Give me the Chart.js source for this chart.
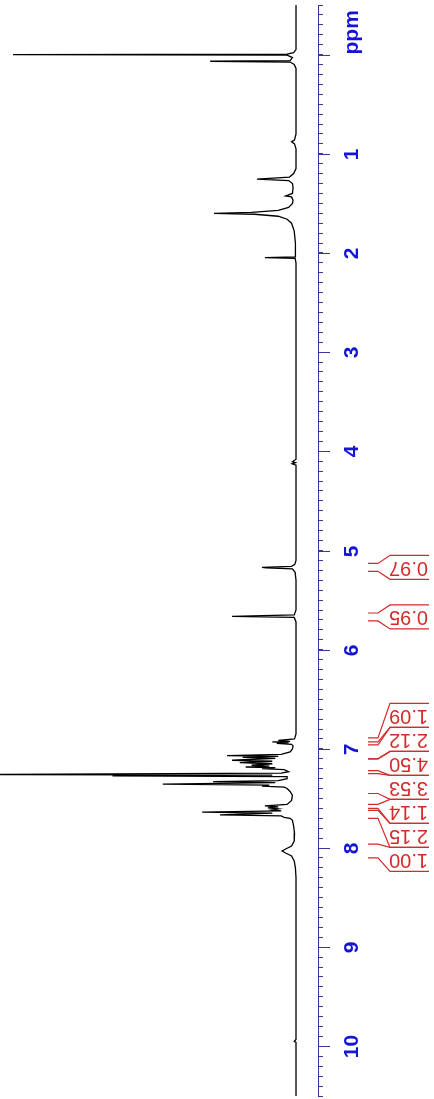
<!DOCTYPE html>
<html>
<head>
<meta charset="utf-8">
<script src="https://cdn.jsdelivr.net/npm/chart.js@4"></script>
<style>
  html, body { margin: 0; padding: 0; background: #fff; }
  #wrap { width: 434px; height: 1099px; position: relative; }
</style>
</head>
<body>
<div id="wrap"><canvas id="nmrChart"></canvas></div>
<script>
// Spectrum trace: chemical shift (ppm) and relative intensity
const shifts = [
  -0.5, -0.05, -0.02, -0.005, 0.0, 0.006, 0.03, 0.06, 0.067, 0.075, 0.10, 0.14,
  0.80, 0.86, 0.88, 0.90, 0.95,
  1.15, 1.20, 1.235, 1.255, 1.27, 1.30, 1.34, 1.40, 1.425, 1.435, 1.47, 1.50,
  1.54, 1.57, 1.59, 1.60, 1.61, 1.63, 1.66, 1.70, 1.78, 1.90,
  2.00, 2.04, 2.047, 2.055, 2.10,
  4.08, 4.105, 4.115, 4.125, 4.14,
  5.10, 5.14, 5.16, 5.17, 5.175, 5.185, 5.22, 5.30,
  5.60, 5.65, 5.665, 5.675, 5.72,
  6.85, 6.90, 6.915, 6.925, 6.93, 6.938, 6.945, 6.955, 6.97, 7.00, 7.03,
  7.055, 7.068, 7.075, 7.085, 7.095, 7.115, 7.125, 7.138, 7.15, 7.165, 7.175,
  7.183, 7.19, 7.20, 7.21, 7.23, 7.245, 7.26, 7.265, 7.272, 7.28, 7.30, 7.32,
  7.33, 7.34, 7.355, 7.365, 7.375, 7.385, 7.40, 7.43, 7.47, 7.52, 7.56,
  7.575, 7.585, 7.595, 7.605, 7.615, 7.625, 7.638, 7.648, 7.665, 7.675, 7.69,
  7.70, 7.72, 7.78, 7.85, 7.93, 7.98, 8.01, 8.03, 8.05, 8.08, 8.13, 8.20, 8.30,
  9.93, 9.95, 9.96, 10.6
];
const intensities = [
  0, 0, 0.8, 3, 95.6, 3, 1.2, 2, 29, 2, 0.6, 0,
  0, 0.5, 1.5, 0.5, 0,
  0, 0.8, 2.2, 13.2, 2.5, 1.2, 1.0, 1.2, 3.5, 1.5, 1.0, 1.2,
  2.5, 6, 15, 27.7, 14, 6, 3, 1.5, 0.6, 0.2,
  0.1, 0.3, 10.5, 0.3, 0,
  0, 1.2, 0.2, 1.3, 0,
  0, 0.4, 1.5, 11.5, 10, 1.2, 0.3, 0,
  0, 0.6, 21.6, 0.6, 0,
  0, 0.5, 6, 2, 8, 2.5, 6.5, 1.5, 1.0, 1.2, 2.0,
  5, 23.3, 6, 18, 7, 21.6, 8, 19, 8, 15, 9,
  17, 7, 11.5, 4, 2.5, 5, 115, 8, 62, 3, 3, 6,
  28, 7, 45, 9, 11.5, 4, 3, 2, 1.2, 1.5, 3,
  10.5, 6, 9.5, 6, 8, 5, 31.7, 8, 25.7, 5, 4,
  2, 1.2, 0.8, 0.5, 0.6, 1.5, 3.5, 4.7, 3.5, 1.5, 0.6, 0.2, 0,
  0, 0.6, 0, 0
];

// Integral regions (ppm) and their values
const integralFrom = [5.13, 5.63, 6.89, 6.96, 7.10, 7.25, 7.56, 7.62, 7.96];
const integralTo = [5.21, 5.71, 6.93, 7.10, 7.22, 7.45, 7.60, 7.70, 8.10];
const integralValues = ['0.97', '0.95', '1.09', '2.12', '4.50', '3.53', '1.14', '2.15', '1.00'];

// Axis
const axisTitle = 'ppm';
const ppmMin = -0.5;
const ppmMax = 10.5;

const AXIS_BLUE = '#38389a';
const LABEL_BLUE = '#1414d6';
const INT_RED = '#d42a2a';

// Places the stacked integral labels so they don't overlap
function layoutLabels(centers, h) {
  let clusters = centers
    .map((c, i) => ({ members: [i], sum: c }))
    .sort((a, b) => a.sum - b.sum);
  let merged = true;
  while (merged) {
    merged = false;
    for (let k = 0; k < clusters.length - 1; k++) {
      const a = clusters[k], b = clusters[k + 1];
      const am = a.sum / a.members.length, bm = b.sum / b.members.length;
      if (am + a.members.length * h / 2 > bm - b.members.length * h / 2) {
        clusters.splice(k, 2, { members: a.members.concat(b.members), sum: a.sum + b.sum });
        merged = true;
        break;
      }
    }
  }
  const tops = [];
  clusters.forEach(cl => {
    const n = cl.members.length;
    const mean = cl.sum / n;
    cl.members.forEach((idx, j) => { tops[idx] = mean - n * h / 2 + j * h; });
  });
  return tops;
}

const ppmAxisPlugin = {
  id: 'ppmAxis',
  afterDraw(chart) {
    const ctx = chart.ctx;
    const yScale = chart.scales.y;
    const axisX = chart.chartArea.right;
    ctx.save();

    // long ticks and rotated labels at whole ppm values
    ctx.strokeStyle = AXIS_BLUE;
    ctx.lineWidth = 1;
    ctx.fillStyle = LABEL_BLUE;
    ctx.font = 'bold 21px "Liberation Sans", Arial, sans-serif';
    ctx.textBaseline = 'middle';
    yScale.ticks.forEach(t => {
      const v = t.value;
      if (Math.abs(v - Math.round(v)) > 1e-6) return;
      const py = Math.round(yScale.getPixelForValue(v)) + 0.5;
      ctx.beginPath();
      ctx.moveTo(axisX, py);
      ctx.lineTo(axisX + 12, py);
      ctx.stroke();
      ctx.save();
      ctx.translate(axisX + 34, py);
      ctx.rotate(-Math.PI / 2);
      if (Math.round(v) === 0) {
        ctx.textAlign = 'left';
        ctx.fillText(axisTitle, 1, 0);
      } else {
        ctx.textAlign = 'center';
        ctx.fillText(String(Math.round(v)), 0, 0);
      }
      ctx.restore();
    });

    // integrals: upside-down labels with bracket lines to their regions
    const h = 24;
    const centers = integralFrom.map((f, i) =>
      (yScale.getPixelForValue(f) + yScale.getPixelForValue(integralTo[i])) / 2);
    const tops = layoutLabels(centers, h);
    ctx.strokeStyle = INT_RED;
    ctx.fillStyle = INT_RED;
    ctx.lineWidth = 1.2;
    ctx.font = '20px "Liberation Sans", Arial, sans-serif';
    const xRight = 429, xBox = 390, xDiag = 378, xStub = 368;
    integralValues.forEach((val, i) => {
      const yt = tops[i], yb = tops[i] + h;
      const ys = yScale.getPixelForValue(integralFrom[i]);
      const ye = yScale.getPixelForValue(integralTo[i]);
      ctx.beginPath();
      ctx.moveTo(xRight, yt);
      ctx.lineTo(xBox, yt);
      ctx.lineTo(xDiag, ys);
      ctx.lineTo(xStub, ys);
      ctx.moveTo(xRight, yb);
      ctx.lineTo(xBox, yb);
      ctx.lineTo(xDiag, ye);
      ctx.lineTo(xStub, ye);
      ctx.stroke();
      ctx.save();
      ctx.translate(xRight - 1, yt + h / 2);
      ctx.rotate(Math.PI);
      ctx.textAlign = 'left';
      ctx.textBaseline = 'middle';
      ctx.fillText(val, 0, 0);
      ctx.restore();
    });
    ctx.restore();
  }
};

const ctx = document.getElementById('nmrChart').getContext('2d');
new Chart(ctx, {
  type: 'line',
  data: {
    datasets: [{
      data: shifts.map((s, i) => ({ x: intensities[i], y: s })),
      borderColor: '#000',
      borderWidth: 1.3,
      pointRadius: 0,
      tension: 0,
      fill: false
    }]
  },
  options: {
    indexAxis: 'y',
    responsive: true,
    maintainAspectRatio: false,
    animation: false,
    layout: { padding: { top: 5, bottom: 3, left: 0, right: 111 } },
    plugins: { legend: { display: false }, tooltip: { enabled: false } },
    scales: {
      x: {
        type: 'linear',
        reverse: true,
        min: -7.43,
        max: 100,
        display: false
      },
      y: {
        type: 'linear',
        position: 'right',
        reverse: true,
        min: ppmMin,
        max: ppmMax,
        border: { display: true, color: AXIS_BLUE, width: 1 },
        grid: {
          display: true,
          drawOnChartArea: false,
          drawTicks: true,
          tickLength: 5,
          tickColor: AXIS_BLUE,
          tickWidth: 1
        },
        ticks: {
          display: false,
          stepSize: 0.1,
          maxTicksLimit: 200,
          autoSkip: false
        }
      }
    }
  },
  plugins: [ppmAxisPlugin]
});
</script>
</body>
</html>
